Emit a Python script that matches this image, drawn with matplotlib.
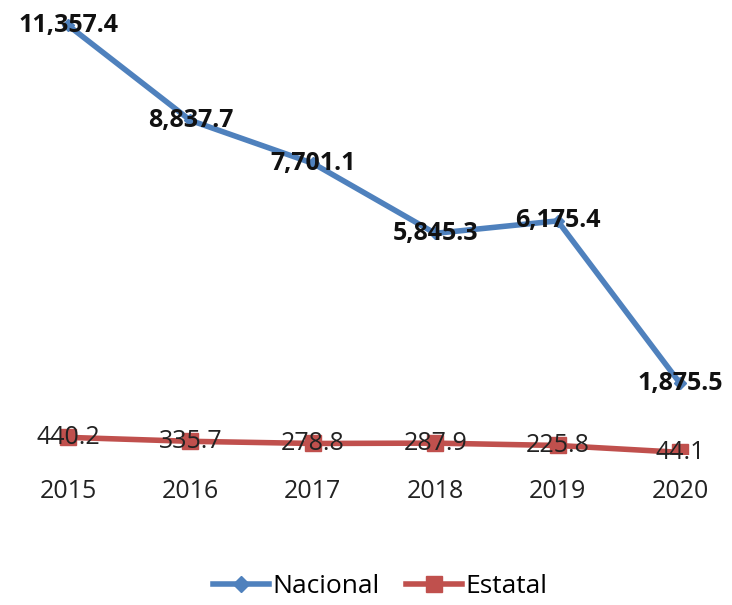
import matplotlib
matplotlib.use("Agg")
import matplotlib.pyplot as plt
from matplotlib.lines import Line2D

years = ["2015", "2016", "2017", "2018", "2019", "2020"]
nacional = [11357.4, 8837.7, 7701.1, 5845.3, 6175.4, 1875.5]
estatal = [440.2, 335.7, 278.8, 287.9, 225.8, 44.1]

blue = "#4F81BD"
red = "#C0504D"
font = "Open Sans"

fig = plt.figure(figsize=(7.32, 6.05), dpi=100)
ax = fig.add_axes([0, 0.2496, 1, 0.7487])
x = list(range(len(years)))

ax.plot(x, nacional, color=blue, lw=4, marker="D", ms=6, zorder=2)
ax.plot(x, estatal, color=red, lw=4, marker="s", ms=12, zorder=2)

for xi, v in zip(x, nacional):
    ax.text(xi, v, f"{v:,.1f}", ha="center", va="center", fontsize=18,
            fontweight="bold", family=font, color="#111111", zorder=3)
for xi, v in zip(x, estatal):
    ax.text(xi, v, f"{v:,.1f}", ha="center", va="center", fontsize=18,
            family=font, color="#222222", zorder=3)

ax.set_ylim(0, 12000)
ax.set_xlim(-0.556, 5.425)
ax.set_xticks(x)
ax.set_xticklabels(years, family=font, fontsize=18, color="#222222")
ax.tick_params(axis="x", length=0, pad=18)
ax.set_yticks([])
for s in ax.spines.values():
    s.set_visible(False)

handles = [
    Line2D([], [], color=blue, lw=4, marker="D", ms=8, label="Nacional"),
    Line2D([], [], color=red, lw=4, marker="s", ms=12, label="Estatal"),
]
fig.legend(handles=handles, loc="center", bbox_to_anchor=(0.52, 0.03),
           ncol=2, frameon=False, prop={"family": font, "size": 19},
           handlelength=2.1, columnspacing=1.0, handletextpad=0.15,
           borderpad=0.1)

fig.savefig("out.png", dpi=100)
